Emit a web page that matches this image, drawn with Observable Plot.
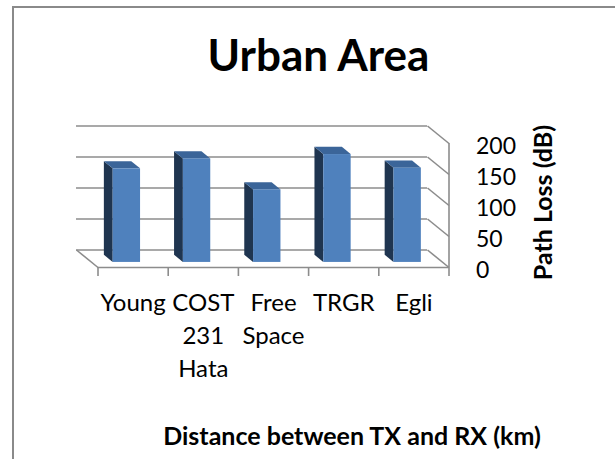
<!DOCTYPE html>
<html>
<head>
<meta charset="utf-8">
<script src="https://cdn.jsdelivr.net/npm/d3@7"></script>
<script src="https://cdn.jsdelivr.net/npm/@observablehq/plot@0.6"></script>
<style>
  html, body { margin: 0; padding: 0; background: #ffffff; overflow: hidden; width: 615px; height: 459px; }
  #frame { position: absolute; left: 12px; top: 6px; width: 700px; height: 600px;
           border-left: 2px solid #8a8a8a; border-top: 2px solid #8a8a8a; }
  #chart { position: absolute; left: 0; top: 0; }
</style>
</head>
<body>
<div id="frame"></div>
<div id="chart"></div>
<script>
// ---- data ----
const categories = ["Young", "COST 231 Hata", "Free Space", "TRGR", "Egli"];
const pathLoss = [151, 167, 117, 174, 152];
const yTicks = [0, 50, 100, 150, 200];
const chartTitle = "Urban Area";
const xTitle = "Distance between TX and RX (km)";
const yTitle = "Path Loss (dB)";

// ---- layout / projection ----
const W = 615, H = 459;
const mL = 97.5, mR = 166.5, mT = 143, mB = 192;
const xDomain = [-0.5, categories.length - 0.5];
const yDomain = [0, 200];
const pxPerX = (W - mL - mR) / (xDomain[1] - xDomain[0]);
const pxPerY = (H - mT - mB) / (yDomain[1] - yDomain[0]);
// depth vector of the 3D box (pixels), converted to data units
const depthPxX = -21.5, depthPxY = -17.5;
const DXu = depthPxX / pxPerX;
const DYu = -depthPxY / pxPerY;
const d1 = 0.29, d2 = 0.70;   // bar front / back depth fractions
const BW = 0.39;              // bar width (x units)

const bars = categories.map((c, i) => ({c, i, v: pathLoss[i]}));
const boundaries = d3.range(categories.length + 1).map(k => k - 0.5);

const sidePts = bars.flatMap(d => [
  {i: d.i, x: d.i - BW / 2 + d2 * DXu, y1: d2 * DYu, y2: d.v + d2 * DYu},
  {i: d.i, x: d.i - BW / 2 + d1 * DXu, y1: d1 * DYu, y2: d.v + d1 * DYu}
]);
const topPts = bars.flatMap(d => [
  {i: d.i, y: d.v + d2 * DYu, x1: d.i - BW / 2 + d2 * DXu, x2: d.i + BW / 2 + d2 * DXu},
  {i: d.i, y: d.v + d1 * DYu, x1: d.i - BW / 2 + d1 * DXu, x2: d.i + BW / 2 + d1 * DXu}
]);

const grid = "#8c8c8c";
const frontC = "#4f81bd", sideC = "#1f3550", topC = "#3b6599";
const tickLenU = 9 / pxPerY;

const plot = Plot.plot({
  width: W, height: H,
  marginLeft: mL, marginRight: mR, marginTop: mT, marginBottom: mB,
  x: {type: "linear", domain: xDomain, axis: null},
  y: {type: "linear", domain: yDomain, axis: null},
  style: {fontFamily: "Lato, 'Open Sans', sans-serif", background: "transparent", overflow: "visible", color: "#000"},
  marks: [
    // back wall gridlines
    Plot.ruleY(yTicks, {y: t => t + DYu, x1: () => xDomain[0] + DXu, x2: () => xDomain[1] + DXu, stroke: grid, strokeWidth: 1.6}),
    // right side wall diagonals
    Plot.link(yTicks, {x1: () => xDomain[1] + DXu, y1: t => t + DYu, x2: () => xDomain[1], y2: t => t, stroke: grid, strokeWidth: 1.6}),
    // right front vertical edge
    Plot.ruleX([xDomain[1]], {y1: yDomain[0], y2: yDomain[1], stroke: grid, strokeWidth: 1.6}),
    // floor: left diagonal and front edge
    Plot.link([0], {x1: () => xDomain[0] + DXu, y1: () => DYu, x2: () => xDomain[0], y2: () => 0, stroke: grid, strokeWidth: 1.6}),
    Plot.ruleY([0], {x1: xDomain[0], x2: xDomain[1], stroke: grid, strokeWidth: 1.6}),
    // category ticks
    Plot.ruleX(boundaries, {y1: () => 0, y2: () => -tickLenU, stroke: grid, strokeWidth: 1.6}),
    // bars: side, top, front
    Plot.areaY(sidePts, {x: "x", y1: "y1", y2: "y2", z: "i", fill: sideC}),
    Plot.areaX(topPts, {y: "y", x1: "x1", x2: "x2", z: "i", fill: topC}),
    Plot.rect(bars, {
      x1: d => d.i - BW / 2 + d1 * DXu, x2: d => d.i + BW / 2 + d1 * DXu,
      y1: () => d1 * DYu, y2: d => d.v + d1 * DYu, fill: frontC
    }),
    // value tick labels
    Plot.text(yTicks, {x: () => xDomain[1], y: t => t, text: t => String(t), textAnchor: "start", lineAnchor: "middle", dx: 27, dy: 3, fontSize: 23, fill: "#000"}),
    // category labels
    Plot.text(bars, {x: d => d.i, y: () => 0, text: d => d.c.replace(/ /g, "\n"), textAnchor: "middle", lineAnchor: "top", lineHeight: 1.38, dy: 20, fontSize: 24, fill: "#000"}),
    // titles
    Plot.text([chartTitle], {frameAnchor: "top", text: d => d, textAnchor: "middle", lineAnchor: "middle", dx: 45, dy: -86.5, fontSize: 44, fontWeight: "bold", fill: "#000"}),
    Plot.text([xTitle], {frameAnchor: "bottom", text: d => d, textAnchor: "middle", lineAnchor: "middle", dx: 78.5, dy: 169, fontSize: 25, fontWeight: "bold", fill: "#000"}),
    Plot.text([yTitle], {frameAnchor: "right", text: d => d, rotate: -90, textAnchor: "middle", lineAnchor: "middle", dx: 94.5, dy: -3, fontSize: 25, fontWeight: "bold", fill: "#000"})
  ]
});
document.getElementById("chart").appendChild(plot);
</script>
</body>
</html>
